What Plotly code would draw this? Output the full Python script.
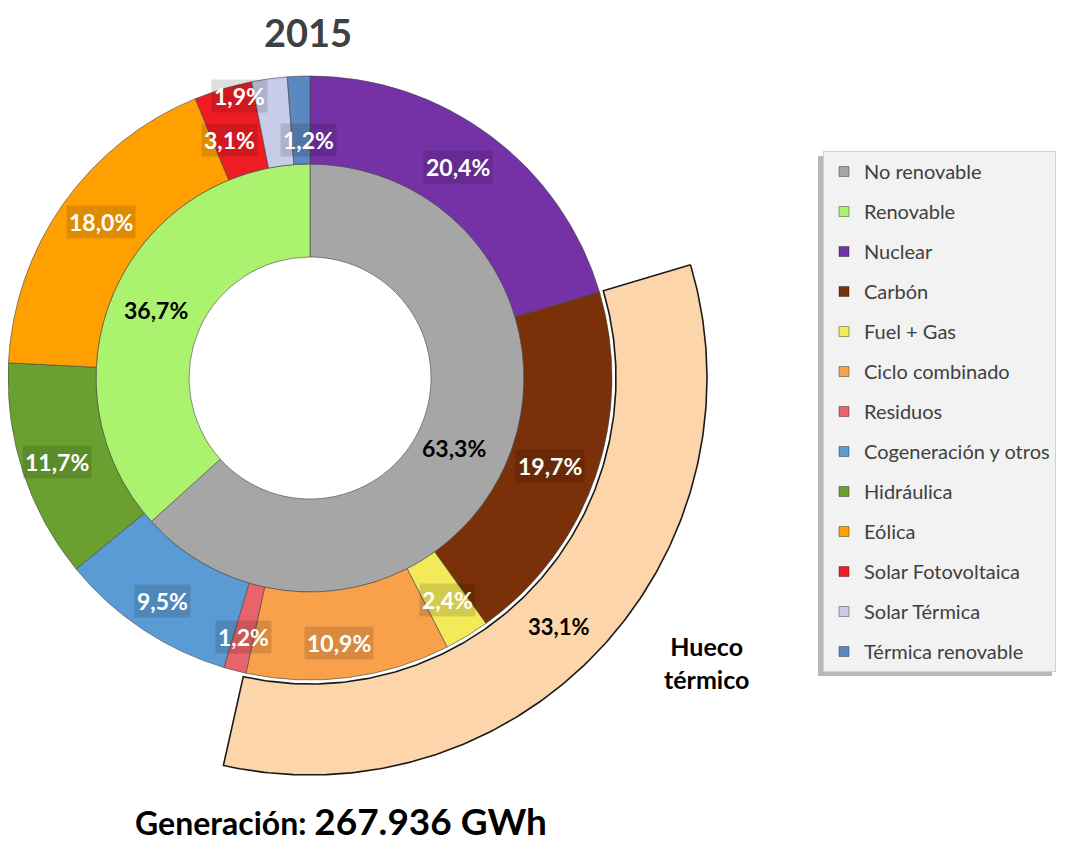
import numpy as np
import plotly.graph_objects as go

# ---------------- data ----------------
inner_labels = ["No renovable", "Renovable"]
inner_values = [63.3, 36.7]

outer_labels = ["Nuclear", "Carbón", "Fuel + Gas", "Ciclo combinado", "Residuos",
                "Cogeneración y otros", "Hidráulica", "Eólica", "Solar Fotovoltaica",
                "Solar Térmica", "Térmica renovable"]
outer_values = [20.4, 19.7, 2.4, 10.9, 1.2, 9.5, 11.7, 18.0, 3.1, 1.9, 1.2]

hueco_label = "Hueco térmico"
hueco_value = 33.1
hueco_after = "Nuclear"          # the band starts right after this slice

year_title = "2015"
generation_label = "Generación:"
generation_value = "267.936 GWh"

# ---------------- style ----------------
inner_colors = ["#A6A6A6", "#ABF26E"]
outer_colors = ["#7432A6", "#7A3008", "#F2EA58", "#F9A04A", "#E8636A",
                "#5B9BD5", "#6AA030", "#FFA000", "#F01C24", "#C8CCE8", "#5A88C0"]
hueco_color = "#FCD5AA"

W, H = 1072, 845                   # browser window
M = 8                              # default page (body) margin
FW, FH = W - M, H - M              # figure size so that it ends at the window edge
CX, CY = 310, 378                  # ring centre (screen pixels)
R_OUT, R_MID, R_HOLE = 302, 214, 121
R_H1, R_H2 = 306, 397
FONT = "Lato"

# pixel offsets for labels that were nudged in the original
label_nudge = {0: (-6, -4), 1: (-4, 4), 2: (3, 2), 3: (-4, 9), 4: (-2, 9),
               5: (-5, 8), 6: (-8, 3), 7: (2, -7), 8: (-6, 9), 9: (-36, -26),
               10: (8, 20)}
inner_nudge = {0: (-9, 2), 1: (-1, 0)}
hueco_nudge = (-8, 9)


def fmt(v):
    return f"{v:.1f}%".replace(".", ",")


def dom(r):
    cx, cy = CX - M, CY - M
    return dict(x=[max(0.0, (cx - r) / FW), min(1.0, (cx + r) / FW)],
                y=[max(0.0, (FH - cy - r) / FH), min(1.0, (FH - cy + r) / FH)])


def polar_px(frac, r):
    a = 2 * np.pi * np.asarray(frac)
    return CX - M + r * np.sin(a), CY - M - r * np.cos(a)


def sx(x):
    return x - M


fig = go.Figure()

# Hueco térmico band (drawn on a pixel-scaled cartesian axis)
f0 = sum(outer_values[: outer_labels.index(hueco_after) + 1]) / 100.0
f1 = f0 + hueco_value / 100.0
fr = np.linspace(f0, f1, 200)
xo, yo = polar_px(fr, R_H2)
xi, yi = polar_px(fr[::-1], R_H1)
fig.add_trace(go.Scatter(
    x=np.concatenate([xo, xi, xo[:1]]), y=np.concatenate([yo, yi, yo[:1]]),
    fill="toself", fillcolor=hueco_color, mode="lines",
    line=dict(color="#1a1a1a", width=1.6), name=hueco_label,
    showlegend=False, hoverinfo="name"))

# Inner ring
fig.add_trace(go.Pie(
    labels=inner_labels, values=inner_values, hole=R_HOLE / R_MID,
    domain=dom(R_MID), sort=False, direction="clockwise", rotation=0,
    marker=dict(colors=inner_colors, line=dict(color="rgba(70,70,70,0.6)", width=1)),
    textinfo="none", showlegend=False, hoverinfo="label+percent"))

# Outer ring
fig.add_trace(go.Pie(
    labels=outer_labels, values=outer_values, hole=R_MID / R_OUT,
    domain=dom(R_OUT), sort=False, direction="clockwise", rotation=0,
    marker=dict(colors=outer_colors, line=dict(color="rgba(70,70,70,0.6)", width=1)),
    textinfo="none", showlegend=False, hoverinfo="label+percent"))

# Legend entries
for lab, col in zip(inner_labels + outer_labels, inner_colors + outer_colors):
    fig.add_trace(go.Scatter(
        x=[None], y=[None], mode="markers", name=lab, legendgroup=lab,
        marker=dict(symbol="square", size=10, color=col,
                    line=dict(color="rgba(0,0,0,0.35)", width=1))))

ann = []
LBL = 23
# outer labels
cum = np.cumsum([0] + outer_values) / 100.0
r_lab = (R_MID + R_OUT) / 2
for i, v in enumerate(outer_values):
    mid = (cum[i] + cum[i + 1]) / 2
    x, y = polar_px(mid, r_lab)
    dx, dy = label_nudge.get(i, (0, 0))
    ann.append(dict(x=float(x + dx), y=float(y + dy), xref="x", yref="y",
                    text=fmt(v), showarrow=False,
                    font=dict(family=FONT, size=LBL, color="white", weight="bold"),
                    bgcolor="rgba(0,0,0,0.13)", borderpad=2))
# inner labels
cum_i = np.cumsum([0] + inner_values) / 100.0
r_lab_i = (R_HOLE + R_MID) / 2
for i, v in enumerate(inner_values):
    mid = (cum_i[i] + cum_i[i + 1]) / 2
    x, y = polar_px(mid, r_lab_i)
    dx, dy = inner_nudge.get(i, (0, 0))
    ann.append(dict(x=float(x + dx), y=float(y + dy), xref="x", yref="y", text=fmt(v),
                    showarrow=False,
                    font=dict(family=FONT, size=LBL, color="black", weight="bold")))
# hueco label
x, y = polar_px((f0 + f1) / 2, (R_H1 + R_H2) / 2)
ann.append(dict(x=float(x + hueco_nudge[0]), y=float(y + hueco_nudge[1]),
                xref="x", yref="y", text=fmt(hueco_value), showarrow=False,
                font=dict(family=FONT, size=LBL - 1, color="black", weight="bold")))
ann.append(dict(x=sx(706), y=sx(662), xref="x", yref="y",
                text="<br>".join(hueco_label.split(" ")), showarrow=False,
                font=dict(family=FONT, size=25, color="black", weight="bold")))
# title & footer
ann.append(dict(x=sx(308), y=0, xref="x", yref="y", yanchor="top",
                text=f"<b>{year_title}</b>", borderpad=0,
                showarrow=False, font=dict(family=FONT, size=38, color="#404040")))
ann.append(dict(x=sx(341), y=sx(820), xref="x", yref="y",
                text=(f"<b><span style='font-size:32px'>{generation_label} </span>"
                      f"<span style='font-size:37px'>{generation_value}</span></b>"),
                showarrow=False, font=dict(family=FONT, size=32, color="black")))

# legend drop shadow
shapes = [dict(type="rect", xref="x", yref="y", layer="below",
               x0=sx(818), x1=sx(1052), y0=sx(156), y1=sx(676),
               fillcolor="rgba(0,0,0,0.28)", line=dict(width=0))]

fig.update_layout(
    width=FW, height=FH, margin=dict(l=0, r=0, t=0, b=0),
    paper_bgcolor="white", plot_bgcolor="rgba(0,0,0,0)",
    xaxis=dict(range=[0, FW], visible=False, domain=[0, 1], fixedrange=True),
    yaxis=dict(range=[FH, 0], visible=False, domain=[0, 1], fixedrange=True),
    annotations=ann, shapes=shapes,
    legend=dict(x=sx(823) / FW, y=1 - sx(151) / FH, xanchor="left", yanchor="top",
                bgcolor="#F2F2F2", bordercolor="#D0D0D0", borderwidth=1,
                font=dict(family=FONT, size=20, color="#404040"),
                tracegroupgap=11, traceorder="grouped", itemclick=False),
    showlegend=True,
)

fig.write_html("out.html")
